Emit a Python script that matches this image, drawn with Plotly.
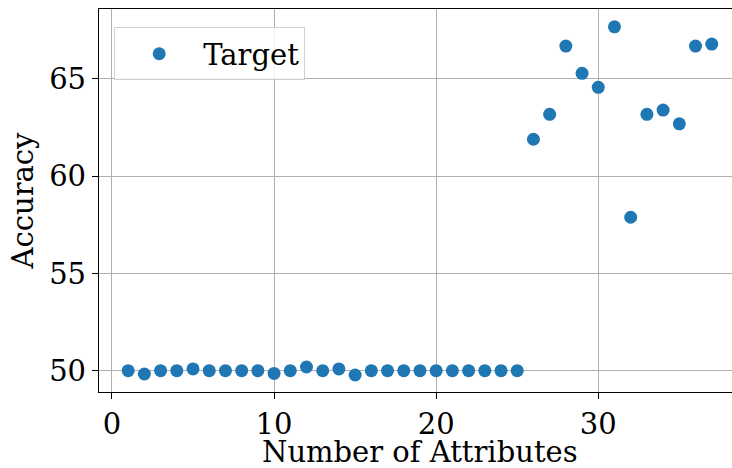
import plotly.graph_objects as go

# Accuracy measured for each number of attributes
num_attributes = list(range(1, 38))
accuracy = [
    50.0, 49.83, 50.0, 50.0, 50.09, 50.0, 50.0, 50.0, 50.0, 49.86,
    50.0, 50.19, 50.0, 50.09, 49.78, 50.0, 50.0, 50.0, 50.0, 50.0,
    50.0, 50.0, 50.0, 50.0, 50.0, 61.9, 63.18, 66.69, 65.29, 64.57,
    67.68, 57.89, 63.18, 63.4, 62.69, 66.69, 66.79,
]

x_ticks = [0, 10, 20, 30]
y_ticks = [50, 55, 60, 65]

FONT = "DejaVu Serif"
FONT_SIZE = 29
BLUE = "#1f77b4"
GRID = "#b0b0b0"

fig = go.Figure()
fig.add_trace(go.Scatter(
    x=num_attributes,
    y=accuracy,
    mode="markers",
    name="Target",
    marker=dict(color=BLUE, size=13, line=dict(width=0)),
))

axis_common = dict(
    showgrid=True,
    gridcolor=GRID,
    gridwidth=1,
    zeroline=False,
    showline=True,
    linecolor="black",
    linewidth=1.3,
    ticks="outside",
    ticklen=6,
    tickwidth=1.3,
    tickcolor="black",
    tickfont=dict(family=FONT, size=FONT_SIZE, color="black"),
    automargin=False,
)

fig.update_layout(
    width=732,
    height=468,
    margin=dict(l=99, r=0, t=9, b=76),
    plot_bgcolor="white",
    paper_bgcolor="white",
    font=dict(family=FONT, color="black"),
    xaxis=dict(
        **axis_common,
        range=[-0.8, 38.25],
        tickvals=x_ticks,
        mirror=True,
    ),
    yaxis=dict(
        **axis_common,
        range=[48.905, 68.595],
        tickvals=y_ticks,
        title=dict(text="Accuracy", font=dict(family=FONT, size=FONT_SIZE), standoff=6),
    ),
    showlegend=True,
    legend=dict(
        x=0.024,
        y=0.952,
        xanchor="left",
        yanchor="top",
        bgcolor="rgba(255,255,255,0.8)",
        bordercolor="#d0d0d0",
        borderwidth=1,
        itemwidth=78,
        entrywidth=200,
        entrywidthmode="pixels",
        font=dict(family=FONT, size=FONT_SIZE, color="black"),
    ),
)

# x-axis title placed beneath the tick labels, in a compact box at the bottom edge
fig.add_annotation(
    text="Number of Attributes",
    xref="paper", yref="paper",
    x=0.5, y=0,
    xanchor="center", yanchor="bottom",
    xshift=4, yshift=-76,
    height=31,
    valign="top",
    showarrow=False,
    font=dict(family=FONT, size=FONT_SIZE, color="black"),
)

fig.write_html("out.html")
